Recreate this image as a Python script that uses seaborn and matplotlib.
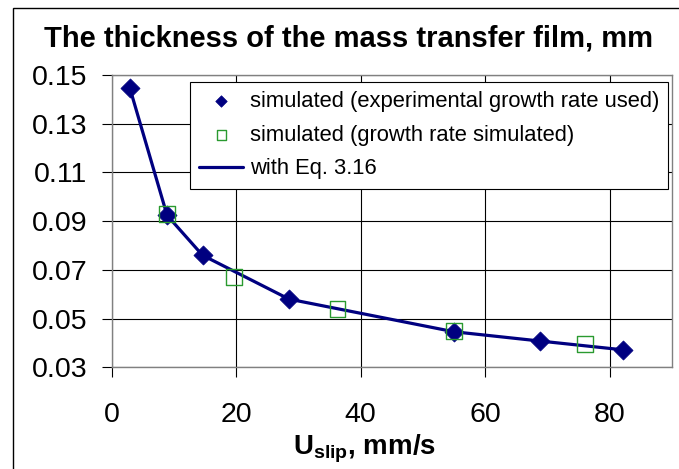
import matplotlib
matplotlib.use("Agg")
import matplotlib.pyplot as plt
import seaborn as sns
import pandas as pd
from matplotlib.patches import Rectangle

# Film thickness vs slip velocity
u_exp = [2.9, 8.9, 14.6, 28.5, 55.0, 68.8, 82.1]
delta_exp = [0.1448, 0.0924, 0.0760, 0.0580, 0.0446, 0.0408, 0.0372]

u_sim = [8.9, 19.6, 36.3, 55.0, 76.0]
delta_sim = [0.0931, 0.0672, 0.0540, 0.0448, 0.0397]

u_eq = [2.9, 8.9, 14.6, 28.5, 55.0, 68.8, 82.1]
delta_eq = [0.1448, 0.0924, 0.0760, 0.0580, 0.0446, 0.0408, 0.0372]

x_ticks = [0, 20, 40, 60, 80]
y_ticks = [0.03, 0.05, 0.07, 0.09, 0.11, 0.13, 0.15]

label_exp = "simulated (experimental growth rate used)"
label_sim = "simulated (growth rate simulated)"
label_eq = "with Eq. 3.16"

sns.set_theme(style="white")
plt.rcParams["font.family"] = ["Liberation Sans", "DejaVu Sans"]
plt.rcParams["mathtext.fontset"] = "custom"
plt.rcParams["mathtext.bf"] = "Liberation Sans:bold"
plt.rcParams["mathtext.rm"] = "Liberation Sans"
plt.rcParams["text.color"] = "black"

fig = plt.figure(figsize=(6.79, 4.69), dpi=100)
ax = fig.add_axes([0.1645, 0.2168, 0.8248, 0.6232])

df_exp = pd.DataFrame({"u": u_exp, "d": delta_exp})
df_sim = pd.DataFrame({"u": u_sim, "d": delta_sim})
df_eq = pd.DataFrame({"u": u_eq, "d": delta_eq})

navy = "#000080"
green = "#2a9a30"

sns.lineplot(data=df_eq, x="u", y="d", ax=ax, color=navy, linewidth=2.3,
             sort=False, label=label_eq, zorder=3)
sns.scatterplot(data=df_exp, x="u", y="d", ax=ax, marker="D", s=95,
                color=navy, edgecolor=navy, linewidth=0.5, label=label_exp, zorder=4)
sns.scatterplot(data=df_sim, x="u", y="d", ax=ax, marker="s", s=130,
                facecolor="none", edgecolor=green, linewidth=1.0,
                label=label_sim, zorder=5)

ax.set_xlim(0, 90)
ax.set_ylim(0.03, 0.15)
ax.set_xticks(x_ticks)
ax.set_yticks(y_ticks)
ax.set_xticklabels([str(v) for v in x_ticks])
ax.set_yticklabels([f"{v:.2f}" for v in y_ticks])
ax.tick_params(axis="both", labelsize=20.5, colors="black", labelcolor="black",
               length=7, width=0.8, direction="out", bottom=True, left=True)
ax.tick_params(axis="y", pad=10.5)
ax.tick_params(axis="x", pad=18)
ax.grid(True, color="black", linewidth=0.8)
for side in ["top", "right", "bottom", "left"]:
    ax.spines[side].set_color("#808080")
    ax.spines[side].set_linewidth(1.0)

ax.set_xlabel(r"$\mathbf{U_{slip}}$, mm/s", fontsize=20, fontweight="bold",
              color="black")
ax.xaxis.set_label_coords(0.4514, -0.297)
ax.xaxis.label.set_verticalalignment("baseline")
ax.set_ylabel("")

fig.text(0.513, 1 - 46.7 / 469, "The thickness of the mass transfer film, mm",
         ha="center", va="baseline", fontsize=21, fontweight="bold",
         color="black")

handles, labels = ax.get_legend_handles_labels()
order = [labels.index(label_exp), labels.index(label_sim), labels.index(label_eq)]
leg = ax.legend([handles[i] for i in order], [labels[i] for i in order],
                loc="upper left", bbox_to_anchor=(0.14, 0.977),
                borderaxespad=0, fontsize=15.8, frameon=True, fancybox=False,
                edgecolor="black", framealpha=1, handlelength=2.0,
                handletextpad=0.3, labelspacing=0.58, borderpad=0.42,
                markerscale=0.6)
leg.get_frame().set_linewidth(0.8)
for t in leg.get_texts():
    t.set_color("black")

# Outer chart border
fig.patches.append(Rectangle((13 / 679, -0.1), 1.2, 1 - 8 / 469 + 0.1,
                             transform=fig.transFigure, fill=False,
                             edgecolor="black", linewidth=1.0))

fig.savefig("out.png", dpi=100)
